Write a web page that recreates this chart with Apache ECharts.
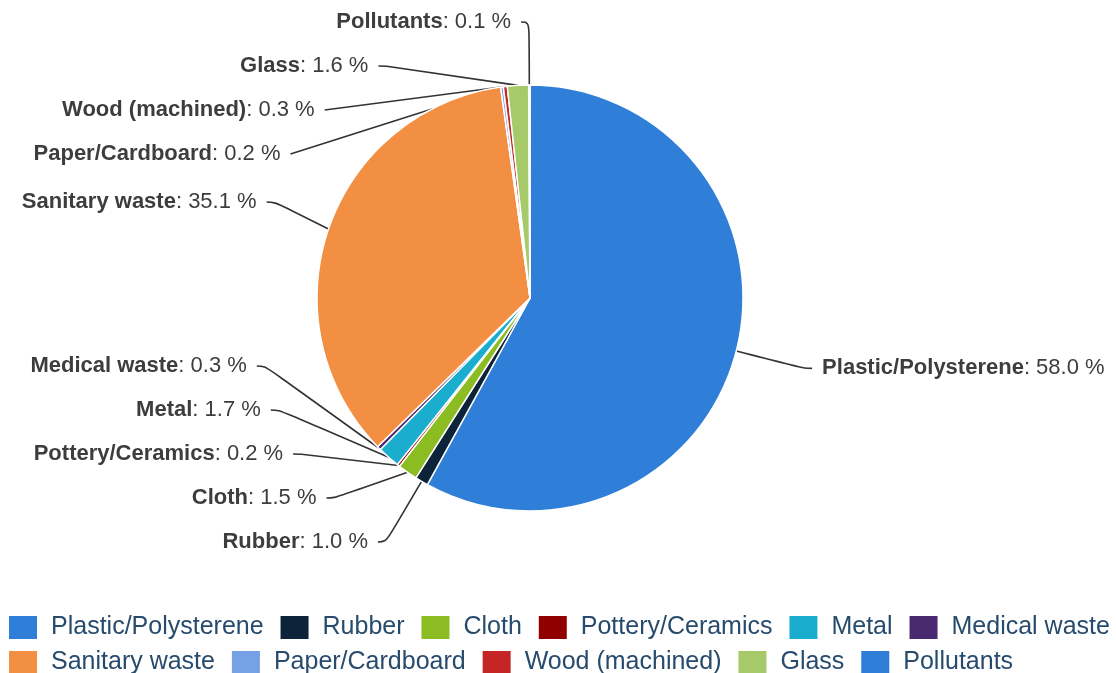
<!DOCTYPE html>
<html>
<head>
<meta charset="utf-8">
<script src="https://cdn.jsdelivr.net/npm/echarts@6/dist/echarts.min.js"></script>
<style>
html,body{margin:0;padding:0;background:#fff;}
#c{width:1116px;height:673px;}
</style>
</head>
<body>
<div id="c"></div>
<script>
const categories = ["Plastic/Polysterene","Rubber","Cloth","Pottery/Ceramics","Metal","Medical waste","Sanitary waste","Paper/Cardboard","Wood (machined)","Glass","Pollutants"];
const percentValues = [58.0,1.0,1.5,0.2,1.7,0.3,35.1,0.2,0.3,1.6,0.1];
const sliceColors = ["#2f7ed8","#0d233a","#8bbc21","#910000","#1aadce","#492970","#f28f43","#77a1e5","#c42525","#a6c96a","#2f7ed8"];

const chart = echarts.init(document.getElementById('c'), null, {renderer:'canvas'});
const fontFam = '"Liberation Sans", Arial, Helvetica, sans-serif';
const labelColor = '#3d3d3d';
chart.setOption({
  animation:false,
  color: sliceColors,
  legend:{
    top: 614,
    left: 7,
    width: 1112,
    padding: 0,
    itemWidth: 30,
    itemHeight: 25,
    itemGap: 8,
    icon: 'rect',
    formatter: n => n + '{s| }',
    textStyle:{color:'#274b6d', fontSize:25, fontFamily:fontFam, padding:[0,0,0,8],
      rich:{ s:{width:6, fontSize:25} } },
    data: categories
  },
  series:[{
    type:'pie',
    left:0, top:0, right:0, bottom:109,
    center:[530,298],
    radius:[0,213],
    startAngle:90,
    clockwise:true,
    avoidLabelOverlap:true,
    minShowLabelAngle:0,
    itemStyle:{borderColor:'#fff', borderWidth:1.5},
    label:{
      show:true,
      position:'outer',
      alignTo:'none',
      fontFamily:fontFam,
      fontSize:22,
      lineHeight:42,
      color:labelColor,
      formatter: p => '{b|' + p.name + '}: ' + p.value.toFixed(1) + ' %',
      rich:{ b:{fontWeight:'bold', fontSize:22, lineHeight:42, color:labelColor, fontFamily:fontFam} },
      distanceToLabelLine: 10
    },
    labelLine:{ show:true, length:70, length2:8, smooth:0.45, lineStyle:{color:'#333', width:1.6} },
    data: categories.map((n,i)=>({name:n, value:percentValues[i]}))
  }]
});
</script>
</body>
</html>
